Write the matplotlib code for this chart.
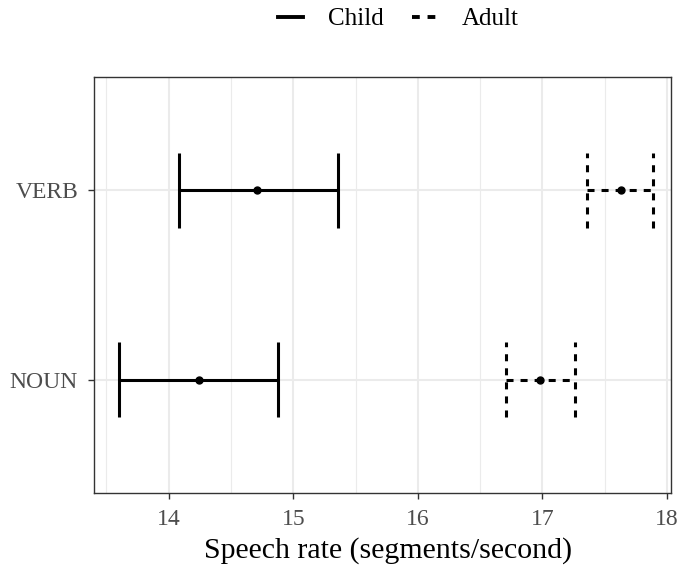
"""
Speech rate by word class: child vs adult, mean with interval bars.
"""

from matplotlib import pyplot as plt
from matplotlib.lines import Line2D

CATEGORIES = ["NOUN", "VERB"]
GROUPS = ["Child", "Adult"]

CHILD_MEAN = [14.24, 14.71]
CHILD_LOW = [13.60, 14.08]
CHILD_HIGH = [14.88, 15.36]

ADULT_MEAN = [16.98, 17.63]
ADULT_LOW = [16.71, 17.36]
ADULT_HIGH = [17.26, 17.89]

X_TICKS = [14, 15, 16, 17, 18]

plt.rcParams["font.family"] = ["Liberation Serif", "DejaVu Serif"]

DASH = (0, (2.3, 2.3))
LW = 2.2
CAP = 0.2

fig = plt.figure(figsize=(6.81, 5.66), dpi=100)
ax = fig.add_axes([0.138, 0.129, 0.847, 0.735])

ypos = list(range(1, len(CATEGORIES) + 1))

series = [
    (CHILD_MEAN, CHILD_LOW, CHILD_HIGH, "solid"),
    (ADULT_MEAN, ADULT_LOW, ADULT_HIGH, DASH),
]
for mean, low, high, style in series:
    ax.hlines(ypos, low, high, color="black", linewidth=LW, linestyle=style, zorder=3)
    for lo_hi in (low, high):
        ax.vlines(lo_hi, [y - CAP for y in ypos], [y + CAP for y in ypos],
                  color="black", linewidth=LW, linestyle=style, zorder=3)
    ax.plot(mean, ypos, "o", color="black", markersize=5, zorder=4)

ax.set_xlim(13.40, 18.03)
ax.set_ylim(0.4, 2.6)
ax.set_xticks(X_TICKS)
ax.set_xticks([13.5, 14.5, 15.5, 16.5, 17.5], minor=True)
ax.set_yticks(ypos)
ax.set_yticklabels(CATEGORIES)

ax.grid(which="major", color="#EBEBEB", linewidth=1.5, zorder=0)
ax.grid(which="minor", axis="x", color="#EBEBEB", linewidth=0.8, zorder=0)
ax.set_axisbelow(True)
for spine in ax.spines.values():
    spine.set_color("#333333")
    spine.set_linewidth(1.0)
ax.tick_params(which="major", length=4, width=1.0, color="#333333",
               labelsize=17, labelcolor="#4D4D4D", pad=7.5)
ax.tick_params(which="minor", length=0)

# axis title sits just under the tick labels, baseline placed in figure coords
ax.set_xlabel("Speech rate (segments/second)", fontsize=21.5)
ax.xaxis.label.set_va("baseline")
ax.xaxis.set_label_coords(0.57, 1 - 558 / 566, transform=fig.transFigure)

handles = [
    Line2D([], [], color="black", linewidth=LW + 0.6, linestyle="solid"),
    Line2D([], [], color="black", linewidth=LW + 0.6, linestyle=(0, (2.0, 2.0))),
]
fig.legend(handles, GROUPS, loc="center", bbox_to_anchor=(0.585, 0.966),
           ncol=2, frameon=False, fontsize=18, handlelength=1.0,
           columnspacing=1.15, handletextpad=1.0)

fig.savefig("out.png", dpi=100)
